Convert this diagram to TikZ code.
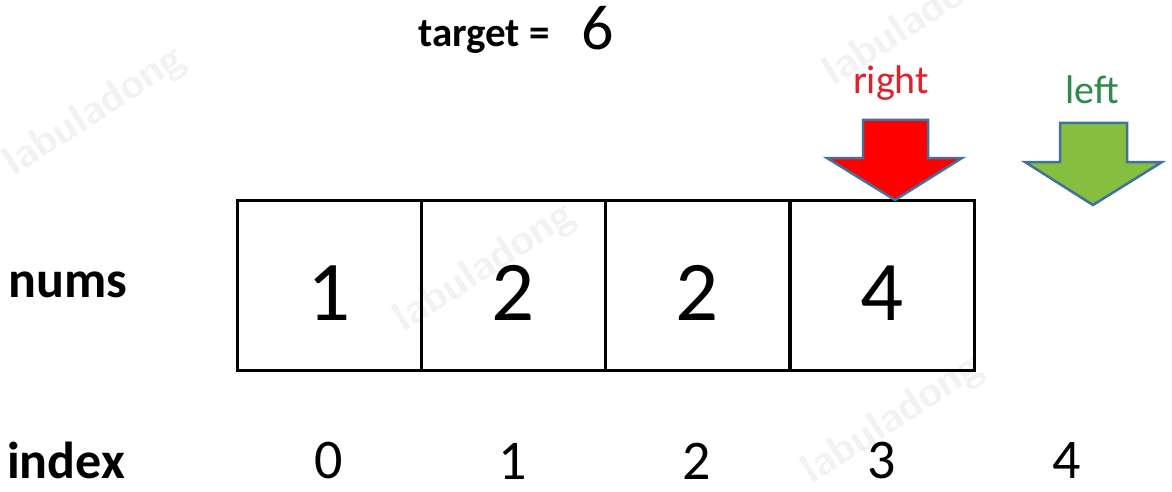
\documentclass[tikz,border=0pt]{standalone}
\usepackage{fontspec}
\setmainfont{Carlito}
\definecolor{outl}{HTML}{41719C}
\definecolor{redfill}{HTML}{FF0000}
\definecolor{greenfill}{HTML}{86BE3F}
\definecolor{redtxt}{HTML}{E0202A}
\definecolor{greentxt}{HTML}{2F8A4A}
\begin{document}
\begin{tikzpicture}[x=1pt,y=-1pt,
  cell/.style={draw=black,line width=3pt,minimum width=184pt,minimum height=170pt,inner sep=0pt},
  num/.style={font=\fontsize{85}{90}\selectfont,inner sep=0pt},
  idx/.style={font=\fontsize{56}{60}\selectfont,inner sep=0pt},
  lab/.style={font=\bfseries\fontsize{52}{56}\selectfont,inner sep=0pt},
  ptr/.style={font=\fontsize{40}{44}\selectfont,inner sep=0pt},
  arrowshape/.style={draw=outl,line width=2.5pt,line join=miter},
  wm/.style={font=\bfseries\sffamily\fontsize{42}{44}\selectfont,text=black!5,rotate=33,inner sep=0pt}]
\fill[white] (0,0) rectangle (1172,492);
\useasboundingbox (0,0) rectangle (1172,492);
% watermarks
\node[wm] (w1) at (95,112) {labuladong};
\node[wm] (w2) at (485,268) {labuladong};
\node[wm] (w3) at (893,420) {labuladong};
\node[wm] (w4) at (915,22) {labuladong};
% title
\node[anchor=base west,inner sep=0pt] (title) at (418,47) {\bfseries\fontsize{41}{44}\selectfont target =};
\node[anchor=base west,inner sep=0pt] (six) at (581,50) {\fontsize{64}{66}\selectfont 6};
% cells
\foreach \i/\x/\v in {0/329/1,1/513/2,2/697/2,3/882/4}{
  \node[cell] (c\i) at (\x,285) {};
  \node[num] (n\i) at ([yshift=-8pt]c\i.center) {\v};
}
% labels
\node[lab] (nums) at (68,285) {nums};
\node[lab] (index) at (66,460) {index};
\foreach \i/\x in {0/329,1/513,2/697,3/882,4/1067}{
  \node[idx] (i\i) at (\x,461) {\i};
}
% pointers
\node[ptr,text=redtxt] (right) at (891,83) {right};
\node[ptr,text=greentxt] (left) at (1092,90) {left};
\draw[arrowshape,fill=redfill] (863,120) -- (928,120) -- (928,158) -- (962,158) -- (895,200) -- (827,158) -- (863,158) -- cycle;
\draw[arrowshape,fill=greenfill] (1060,123) -- (1127,123) -- (1127,162) -- (1162,162) -- (1093,205) -- (1025,162) -- (1060,162) -- cycle;
\end{tikzpicture}
\end{document}
